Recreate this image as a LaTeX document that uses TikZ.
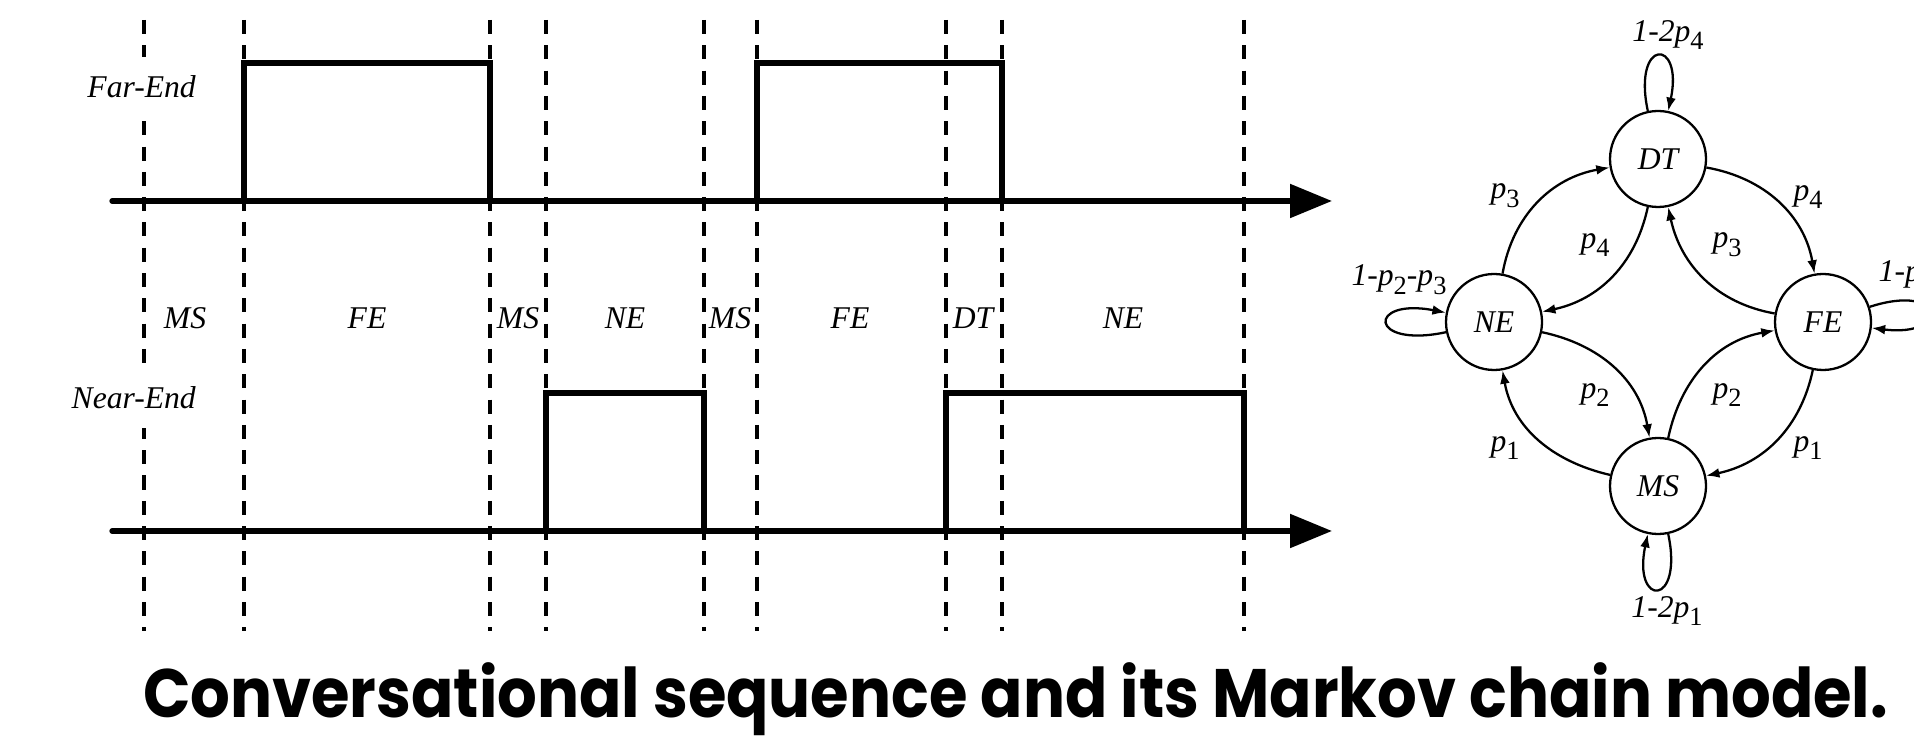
\documentclass[tikz,border=0pt]{standalone}
\usepackage{graphicx}
\usepackage{fontspec}
\setmainfont{Liberation Serif}
\newfontfamily\capfont{Poppins}
\usetikzlibrary{arrows.meta}
\newcommand{\pr}[1]{\textit{p}\raisebox{-0.6ex}{\fontsize{7.5}{8}\selectfont\upshape #1}}

\begin{document}
\begin{tikzpicture}[
        every node/.style={font=\fontsize{9}{10}\selectfont\itshape,inner sep=0pt},
        axis/.style={line width=1.5pt,line cap=round,-{Triangle[length=4.2mm,width=3.3mm]}},
        pulse/.style={line width=1.5pt,line join=miter},
        border/.style={line width=1pt,dash pattern=on 4pt off 3.2pt},
        channel/.style={anchor=east,fill=white,inner xsep=1pt,inner ysep=5.5pt},
        state/.style={circle,draw,line width=0.65pt,minimum size=0.96cm},
        trans/.style={line width=0.65pt,-{Latex[length=3.8pt,width=2.8pt]}}
    ]
        \useasboundingbox (0,0) rectangle (19.14,7.39);
        \foreach \x in {1.44,2.44,4.90,5.46,7.04,7.57,9.46,10.02,12.44}
            \draw[border] (\x,7.19) -- (\x,1.08);
        \draw[axis] (1.12,5.38) -- (13.32,5.38);
        \draw[axis] (1.12,2.08) -- (13.32,2.08);
        \draw[pulse] (2.44,5.38) -- (2.44,6.76) -- (4.90,6.76) -- (4.90,5.38);
        \draw[pulse] (7.57,5.38) -- (7.57,6.76) -- (10.02,6.76) -- (10.02,5.38);
        \draw[pulse] (5.46,2.08) -- (5.46,3.46) -- (7.04,3.46) -- (7.04,2.08);
        \draw[pulse] (9.46,2.08) -- (9.46,3.46) -- (12.44,3.46) -- (12.44,2.08);
        \node[channel] (far) at (2.00,6.52) {Far-End};
        \node[channel] (near) at (2.00,3.41) {Near-End};
        \foreach \x/\s [count=\i] in {1.85/MS,3.67/FE,5.18/MS,6.25/NE,7.30/MS,8.50/FE,9.73/DT,11.23/NE}
            \node (seg\i) at (\x,4.21) {\s};

        \node[state] (DT) at (16.58,5.80) {DT};
        \node[state] (NE) at (14.94,4.17) {NE};
        \node[state] (FE) at (18.23,4.17) {FE};
        \node[state] (MS) at (16.58,2.53) {MS};
        \draw[trans] (NE) to[out=80,in=190] (DT);
        \draw[trans] (DT) to[out=258,in=12] (NE);
        \draw[trans] (DT) to[out=-10,in=100] (FE);
        \draw[trans] (FE) to[out=170,in=282] (DT);
        \draw[trans] (NE) to[out=-12,in=100] (MS);
        \draw[trans] (MS) to[out=167,in=280] (NE);
        \draw[trans] (MS) to[out=78,in=190] (FE);
        \draw[trans] (FE) to[out=258,in=12] (MS);
        \draw[trans] (DT) to[out=102,in=78,distance=0.75cm] (DT);
        \draw[trans] (MS) to[out=-78,in=-102,distance=0.75cm] (MS);
        \draw[trans] (NE) to[out=192,in=169,distance=0.8cm] (NE);
        \draw[trans] (FE) to[out=18,in=-7,distance=0.8cm] (FE);
        \node (pNEDT) at (15.05,5.43) {\pr{3}};
        \node (pDTNE) at (15.95,4.94) {\pr{4}};
        \node (pDTFE) at (18.08,5.42) {\pr{4}};
        \node (pFEDT) at (17.27,4.94) {\pr{3}};
        \node (pNEMS) at (15.95,3.44) {\pr{2}};
        \node (pMSFE) at (17.27,3.44) {\pr{2}};
        \node (pMSNE) at (15.05,2.91) {\pr{1}};
        \node (pFEMS) at (18.08,2.91) {\pr{1}};
        \node (pDT) at (16.68,7.04) {1-2\pr{4}};
        \node (pMS) at (16.67,1.28) {1-2\pr{1}};
        \node (pNE) at (13.99,4.59) {1-\pr{2}-\pr{3}};
        \node[anchor=west] (pFE) at (18.78,4.63) {1-\pr{1}-\pr{3}};

        \node[anchor=base] (caption) at (10.155,0.22) {\resizebox{17.45cm}{\height}{\capfont\bfseries\upshape\fontsize{19.5}{20}\selectfont Conversational sequence and its Markov chain model.}};
    \end{tikzpicture}
\end{document}
